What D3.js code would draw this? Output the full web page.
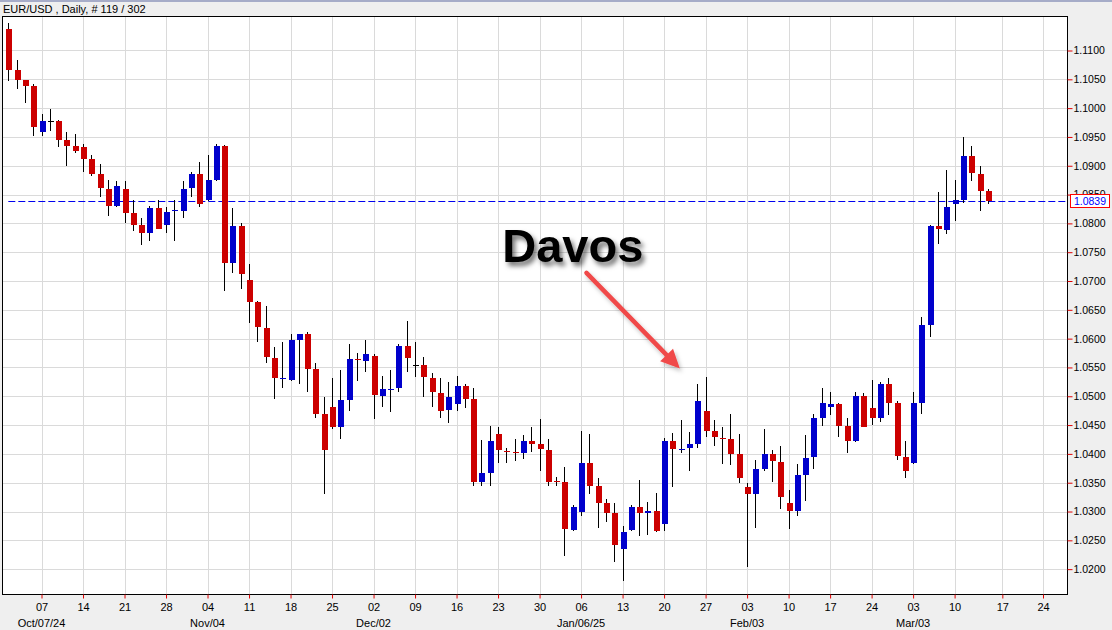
<!DOCTYPE html>
<html>
<head>
<meta charset="utf-8">
<script src="https://cdn.jsdelivr.net/npm/d3@7"></script>
<style>
  html, body { margin: 0; padding: 0; background: #efefef; }
  svg { display: block; }
  text { font-family: "Liberation Sans", Arial, sans-serif; }
</style>
</head>
<body>
<svg id="chart" width="1112" height="630"></svg>
<script>
// ---------------- DATA ----------------
const title = "EUR/USD , Daily, # 119 / 302";
// daily candles, Oct 01 2024 .. Mar 14 2025 (trading days)
const opens = [
  1.1138,1.1067,1.1048,1.1038,1.0959,1.0977,1.0977,1.0944,1.0935,1.0932,
  1.0911,1.0885,1.0860,1.0831,1.0859,1.0818,1.0798,1.0783,1.0826,1.0797,
  1.0821,1.0822,1.0861,1.0886,1.0840,1.0876,1.0935,1.0732,1.0796,1.0702,
  1.0664,1.0618,1.0567,1.0531,1.0529,1.0597,1.0608,1.0547,1.0469,1.0482,
  1.0446,1.0494,1.0564,1.0562,1.0570,1.0501,1.0512,1.0514,1.0588,1.0554,
  1.0555,1.0532,1.0506,1.0476,1.0486,1.0518,1.0496,1.0352,1.0366,1.0435,
  1.0405,1.0403,1.0401,1.0423,1.0418,1.0407,1.0353,1.0352,1.0268,1.0300,
  1.0385,1.0344,1.0314,1.0298,1.0235,1.0268,1.0307,1.0297,1.0301,1.0279,
  1.0423,1.0408,1.0410,1.0418,1.0475,1.0439,1.0428,1.0425,1.0399,1.0343,
  1.0330,1.0373,1.0400,1.0386,1.0315,1.0301,1.0364,1.0394,1.0463,1.0481,
  1.0487,1.0449,1.0423,1.0501,1.0480,1.0463,1.0522,1.0489,1.0395,1.0384,
  1.0488,1.0624,1.0796,1.0789,1.0833,1.0841,1.0917,1.0886,1.0857
];
const highs = [
  1.1147,1.1084,1.1049,1.1042,1.0989,1.0999,1.0980,1.0958,1.0955,1.0938,
  1.0919,1.0903,1.0876,1.0873,1.0873,1.0841,1.0809,1.0831,1.0841,1.0829,
  1.0840,1.0873,1.0890,1.0907,1.0918,1.0938,1.0936,1.0827,1.0800,1.0730,
  1.0665,1.0656,1.0585,1.0595,1.0608,1.0608,1.0612,1.0557,1.0499,1.0532,
  1.0546,1.0590,1.0575,1.0598,1.0574,1.0536,1.0546,1.0591,1.0631,1.0595,
  1.0569,1.0541,1.0532,1.0525,1.0536,1.0521,1.0515,1.0424,1.0449,1.0447,
  1.0411,1.0426,1.0432,1.0446,1.0460,1.0426,1.0360,1.0378,1.0312,1.0439,
  1.0435,1.0359,1.0322,1.0314,1.0275,1.0311,1.0355,1.0317,1.0333,1.0428,
  1.0437,1.0458,1.0438,1.0522,1.0534,1.0458,1.0446,1.0470,1.0435,1.0350,
  1.0390,1.0444,1.0406,1.0413,1.0338,1.0382,1.0432,1.0469,1.0515,1.0508,
  1.0488,1.0462,1.0508,1.0506,1.0529,1.0524,1.0531,1.0491,1.0422,1.0508,
  1.0638,1.0798,1.0855,1.0892,1.0876,1.0950,1.0934,1.0899,1.0860
];
const lows = [
  1.1047,1.1034,1.1009,1.0951,1.0951,1.0961,1.0933,1.0900,1.0923,1.0889,
  1.0882,1.0845,1.0812,1.0828,1.0800,1.0786,1.0762,1.0770,1.0790,1.0783,
  1.0769,1.0809,1.0845,1.0829,1.0838,1.0873,1.0682,1.0714,1.0687,1.0628,
  1.0595,1.0557,1.0496,1.0515,1.0527,1.0522,1.0507,1.0462,1.0331,1.0443,
  1.0425,1.0474,1.0527,1.0542,1.0460,1.0481,1.0472,1.0508,1.0542,1.0533,
  1.0498,1.0481,1.0463,1.0454,1.0475,1.0479,1.0344,1.0345,1.0344,1.0384,
  1.0384,1.0387,1.0391,1.0404,1.0371,1.0344,1.0345,1.0223,1.0266,1.0293,
  1.0331,1.0272,1.0282,1.0213,1.0179,1.0267,1.0258,1.0260,1.0264,1.0266,
  1.0342,1.0401,1.0371,1.0411,1.0429,1.0414,1.0383,1.0381,1.0350,1.0204,
  1.0272,1.0370,1.0352,1.0305,1.0269,1.0292,1.0318,1.0373,1.0448,1.0467,
  1.0429,1.0401,1.0420,1.0446,1.0450,1.0456,1.0468,1.0389,1.0359,1.0383,
  1.0470,1.0602,1.0765,1.0782,1.0805,1.0835,1.0874,1.0822,1.0834
];
const closes = [
  1.1067,1.1048,1.1038,1.0968,1.0977,1.0977,1.0944,1.0935,1.0925,1.0911,
  1.0885,1.0861,1.0831,1.0864,1.0818,1.0798,1.0783,1.0826,1.0791,1.0820,
  1.0823,1.0860,1.0886,1.0833,1.0876,1.0935,1.0732,1.0796,1.0713,1.0664,
  1.0620,1.0568,1.0531,1.0532,1.0597,1.0608,1.0548,1.0470,1.0407,1.0446,
  1.0494,1.0564,1.0563,1.0574,1.0503,1.0512,1.0513,1.0588,1.0566,1.0554,
  1.0533,1.0507,1.0475,1.0498,1.0518,1.0496,1.0352,1.0366,1.0423,1.0406,
  1.0403,1.0401,1.0423,1.0418,1.0408,1.0352,1.0352,1.0269,1.0307,1.0385,
  1.0344,1.0314,1.0298,1.0242,1.0265,1.0307,1.0297,1.0301,1.0266,1.0423,
  1.0408,1.0409,1.0417,1.0491,1.0439,1.0429,1.0425,1.0399,1.0359,1.0330,
  1.0373,1.0400,1.0387,1.0326,1.0301,1.0364,1.0393,1.0463,1.0489,1.0487,
  1.0449,1.0423,1.0501,1.0447,1.0463,1.0522,1.0489,1.0396,1.0370,1.0489,
  1.0624,1.0796,1.0790,1.0829,1.0841,1.0917,1.0887,1.0857,1.0839
];
const lastPrice = 1.0839;

// weekly (Monday) ticks: trading-day index and label
const weekTickIndex = [4,9,14,19,24,29,34,39,44,49,54,59,64,69,74,79,84,89,94,99,104,109,114,119.75,124.65];
const weekTickLabel = ["07","14","21","28","04","11","18","25","02","09","16","23","30","06","13","20","27","03","10","17","24","03","10","17","24"];
const monthTickIndex = [4,24,44,69,89,109];
const monthTickLabel = ["Oct/07/24","Nov/04","Dec/02","Jan/06/25","Feb/03","Mar/03"];
const priceTicks = d3.range(0, 19).map(k => +(1.02 + k * 0.005).toFixed(4));

// annotation (in data units: trading-day index, price)
const noteText = "Davos";
const noteAt = [68.0, 1.0733];
const arrowFrom = [69.65, 1.0714];
const arrowTo = [80.9, 1.0548];

// ---------------- LAYOUT ----------------
const W = 1112, H = 630;
const L = 2.5, T = 16.5, R = 1067.5, B = 594.5;

const svg = d3.select("#chart");
const x = d3.scaleLinear().domain([-0.7, 127.6]).range([L, R]);
const y = d3.scaleLinear().domain([1.0156, 1.1159]).range([B, T]);

const defs = svg.append("defs");
const f1 = defs.append("filter").attr("id", "shadow").attr("x", "-20%").attr("y", "-20%").attr("width", "150%").attr("height", "160%");
f1.append("feDropShadow").attr("dx", 3).attr("dy", 4).attr("stdDeviation", 2.5)
  .attr("flood-color", "#000").attr("flood-opacity", 0.55);
const f2 = defs.append("filter").attr("id", "ashadow").attr("x", "-20%").attr("y", "-20%").attr("width", "150%").attr("height", "150%");
f2.append("feDropShadow").attr("dx", 2).attr("dy", 3).attr("stdDeviation", 2)
  .attr("flood-color", "#000").attr("flood-opacity", 0.25);
defs.append("clipPath").attr("id", "plotclip").append("rect")
  .attr("x", L).attr("y", T).attr("width", R - L).attr("height", B - T);

// background
svg.append("rect").attr("width", W).attr("height", H).attr("fill", "#efefef");
svg.append("rect").attr("width", W).attr("height", 2).attr("fill", "#a6acc8");

// title
svg.append("text").attr("x", 3).attr("y", 12.5).attr("font-size", 11).attr("fill", "#000").text(title);

// plot area
svg.append("rect").attr("x", L).attr("y", T).attr("width", R - L).attr("height", B - T).attr("fill", "#fff");

const plot = svg.append("g").attr("clip-path", "url(#plotclip)");

// grid
plot.append("g").selectAll("line").data(priceTicks).join("line")
  .attr("x1", L).attr("x2", R)
  .attr("y1", d => Math.round(y(d)) + 0.5).attr("y2", d => Math.round(y(d)) + 0.5)
  .attr("stroke", "#dadada").attr("stroke-width", 1);
plot.append("g").selectAll("line").data(weekTickIndex).join("line")
  .attr("x1", d => Math.round(x(d)) + 0.5).attr("x2", d => Math.round(x(d)) + 0.5)
  .attr("y1", T).attr("y2", B)
  .attr("stroke", "#dadada").attr("stroke-width", 1);

// last price dashed line
plot.append("line")
  .attr("x1", x(0)).attr("x2", R)
  .attr("y1", Math.round(y(lastPrice)) + 0.5).attr("y2", Math.round(y(lastPrice)) + 0.5)
  .attr("stroke", "#0000ee").attr("stroke-width", 1.2).attr("stroke-dasharray", "7,3");

// candles
const candles = opens.map((o, i) => ({ i, o, h: highs[i], l: lows[i], c: closes[i] }));
const cg = plot.append("g").attr("shape-rendering", "crispEdges");
cg.selectAll("line").data(candles).join("line")
  .attr("x1", d => Math.round(x(d.i)) + 0.5).attr("x2", d => Math.round(x(d.i)) + 0.5)
  .attr("y1", d => y(d.h)).attr("y2", d => y(d.l))
  .attr("stroke", "#000").attr("stroke-width", 1);
const colorOf = d => d.c > d.o ? "#0000cc" : (d.c < d.o ? "#cc0000" : "#000");
cg.selectAll("rect").data(candles).join("rect")
  .attr("x", d => Math.round(x(d.i)) - 2)
  .attr("width", 6)
  .attr("y", d => Math.round(y(Math.max(d.o, d.c))))
  .attr("height", d => Math.max(1, Math.round(y(Math.min(d.o, d.c))) - Math.round(y(Math.max(d.o, d.c)))))
  .attr("fill", colorOf);

// annotation
svg.append("text")
  .attr("x", x(noteAt[0])).attr("y", y(noteAt[1]))
  .attr("text-anchor", "middle").attr("font-size", 47).attr("font-weight", "bold")
  .attr("fill", "#000").attr("filter", "url(#shadow)").text(noteText);

const ax0 = x(arrowFrom[0]), ay0 = y(arrowFrom[1]);
const ax1 = x(arrowTo[0]), ay1 = y(arrowTo[1]);
const len = Math.hypot(ax1 - ax0, ay1 - ay0);
const ux = (ax1 - ax0) / len, uy = (ay1 - ay0) / len;
const headL = 19, headW = 9;
const bx = ax1 - ux * headL, by = ay1 - uy * headL;
const ag = svg.append("g").attr("filter", "url(#ashadow)");
ag.append("line").attr("x1", ax0).attr("y1", ay0).attr("x2", bx + ux * 2).attr("y2", by + uy * 2)
  .attr("stroke", "#f04a4a").attr("stroke-width", 4.5).attr("stroke-linecap", "round");
ag.append("path")
  .attr("d", `M${ax1},${ay1} L${bx - uy * headW},${by + ux * headW} L${bx + uy * headW},${by - ux * headW} Z`)
  .attr("fill", "#f04a4a");

// frame
svg.append("rect").attr("x", L).attr("y", T).attr("width", R - L).attr("height", B - T)
  .attr("fill", "none").attr("stroke", "#000").attr("stroke-width", 1);

// right axis
const yAxis = d3.axisRight(y).tickValues(priceTicks).tickFormat(d3.format(".4f")).tickSize(5).tickPadding(1);
const yg = svg.append("g").attr("transform", `translate(${R},0)`).call(yAxis);
yg.select(".domain").remove();
yg.selectAll(".tick line").attr("stroke", "#e00000");
yg.selectAll(".tick text").attr("font-size", 10.5).attr("font-family", "Liberation Sans, Arial, sans-serif").attr("fill", "#000");

// bottom axis
const xAxis = d3.axisBottom(x).tickValues(weekTickIndex).tickFormat((d, k) => weekTickLabel[k]).tickSize(4).tickPadding(5);
const xg = svg.append("g").attr("transform", `translate(0,${B})`).call(xAxis);
xg.select(".domain").remove();
xg.selectAll(".tick line").attr("stroke", "#e00000");
xg.selectAll(".tick text").attr("font-size", 11).attr("font-family", "Liberation Sans, Arial, sans-serif").attr("fill", "#000");

svg.append("g").selectAll("text").data(monthTickIndex).join("text")
  .attr("x", d => x(d)).attr("y", 627)
  .attr("text-anchor", "middle").attr("font-size", 11).attr("fill", "#000")
  .text((d, k) => monthTickLabel[k]);

// last price box
const py = Math.round(y(lastPrice));
svg.append("rect").attr("x", R + 3).attr("y", py - 6.5).attr("width", 39).attr("height", 13)
  .attr("fill", "#fff").attr("stroke", "#ff0000").attr("stroke-width", 1);
svg.append("text").attr("x", R + 22.5).attr("y", py + 4).attr("text-anchor", "middle")
  .attr("font-size", 10.5).attr("fill", "#0000ff").text(d3.format(".4f")(lastPrice));
</script>
</body>
</html>
